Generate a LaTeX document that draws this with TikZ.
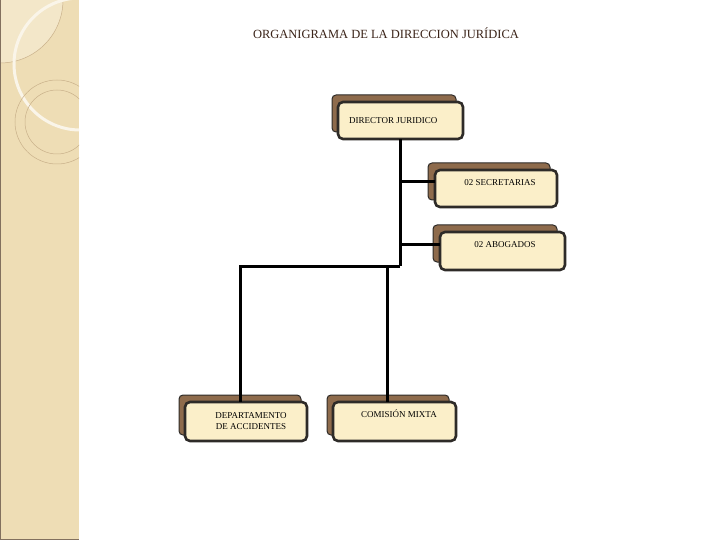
\documentclass[tikz,border=0pt]{standalone}
\usepackage{fontspec}
\setmainfont{Liberation Serif}
\definecolor{side}{HTML}{EEDDB5}
\definecolor{sidelight}{HTML}{F3E7C9}
\definecolor{sideline}{HTML}{C9B08A}
\definecolor{boxfill}{HTML}{FBEFC9}
\definecolor{shadowfill}{HTML}{8E6B4C}
\definecolor{edge}{HTML}{2E2B28}
\definecolor{titlecol}{HTML}{3B2419}
\tikzset{
  shadowbox/.style={draw=edge, line width=1pt, fill=shadowfill, rounded corners=4pt},
  frontbox/.style={draw=edge, line width=2.6pt, fill=boxfill, rounded corners=5pt},
  lbl/.style={font=\fontsize{9}{11}\selectfont, text=black, inner sep=0pt, align=center},
  conn/.style={line width=3pt, black}
}
\begin{document}
\begin{tikzpicture}[x=1pt,y=-1pt]
\useasboundingbox (0,0) rectangle (720,540);
\fill[white] (0,0) rectangle (720,540);
% sidebar
\begin{scope}
\clip (0,0) rectangle (79,540);
\fill[side] (0,0) rectangle (79,540);
\fill[sidelight] (0,0) circle (63);
\draw[sideline, line width=0.5pt] (0,0) circle (63);
\draw[white!70!side, line width=3pt] (80,64) circle (66);
\draw[sideline, line width=0.5pt] (57,122) circle (42);
\draw[sideline, line width=0.5pt] (57,122) circle (32);
\end{scope}
\draw[brown!40!black!70, line width=1pt] (0.5,0) -- (0.5,539.5) -- (79,539.5);
% title
\node[font=\fontsize{12.5}{14}\selectfont, text=titlecol] (title) at (386,33) {ORGANIGRAMA DE LA DIRECCION JURÍDICA};
% boxes
\draw[shadowbox] (332,95) rectangle (456,132);
\draw[frontbox] (338,102) rectangle (463,139);
\node[lbl, anchor=west] (dir) at (349,121) {DIRECTOR JURIDICO};
\coordinate (dirb) at (400,139);

\draw[shadowbox] (428,163) rectangle (550,200);
\draw[frontbox] (435,170) rectangle (557,207);
\node[lbl] (sec) at (500,183) {02 SECRETARIAS};
\coordinate (secl) at (435,182);

\draw[shadowbox] (433,225) rectangle (557,262);
\draw[frontbox] (440,232) rectangle (565,270);
\node[lbl] (abo) at (505,245) {02 ABOGADOS};
\coordinate (abol) at (440,244);

\draw[shadowbox] (179,395) rectangle (301,435);
\draw[frontbox] (185,402) rectangle (307,441);
\node[lbl] (dep) at (251,421) {DEPARTAMENTO\\DE ACCIDENTES};
\coordinate (dept) at (240,402);

\draw[shadowbox] (327,395) rectangle (449,435);
\draw[frontbox] (333,402) rectangle (456,441);
\node[lbl] (com) at (399,414) {COMISIÓN MIXTA};
\coordinate (comt) at (387,402);

% connectors
\coordinate (j) at (400,266);
\coordinate (jl) at (240,266);
\coordinate (jc) at (387,266);
\draw[conn] (dirb) -- (j);
\draw[conn] (400,182) -- (secl);
\draw[conn] (400,244) -- (abol);
\draw[conn] (j) -- (jl) -- (dept);
\draw[conn] (jc) -- (comt);
\end{tikzpicture}
\end{document}
